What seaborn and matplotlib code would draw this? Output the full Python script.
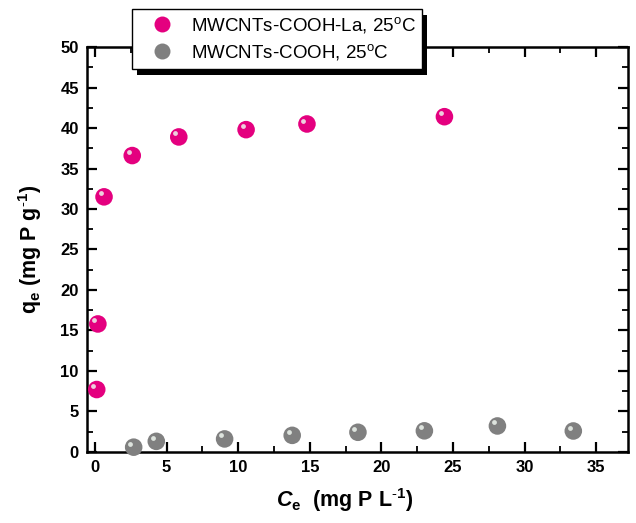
import matplotlib
matplotlib.use("Agg")
import matplotlib.pyplot as plt
import seaborn as sns
import pandas as pd
from matplotlib.transforms import ScaledTranslation
from matplotlib.lines import Line2D
from matplotlib.patches import Rectangle
from matplotlib.ticker import MultipleLocator

# ---- data ----
ce_la = [0.12, 0.2, 0.63, 2.6, 5.85, 10.55, 14.8, 24.4]
qe_la = [7.7, 15.8, 31.5, 36.6, 38.9, 39.8, 40.5, 41.4]
ce_cooh = [2.7, 4.28, 9.05, 13.77, 18.36, 23.0, 28.1, 33.4]
qe_cooh = [0.58, 1.3, 1.6, 2.04, 2.42, 2.6, 3.2, 2.58]
series_names = ["MWCNTs-COOH-La, 25$^\\mathrm{o}$C", "MWCNTs-COOH, 25$^\\mathrm{o}$C"]
colors = ["#E4007F", "#808080"]
xticks = [0, 5, 10, 15, 20, 25, 30, 35]
yticks = [0, 5, 10, 15, 20, 25, 30, 35, 40, 45, 50]

df = pd.DataFrame({
    "Ce": ce_la + ce_cooh,
    "qe": qe_la + qe_cooh,
    "series": [series_names[0]] * len(ce_la) + [series_names[1]] * len(ce_cooh),
})

sns.set_theme(style="white")
plt.rcParams["font.family"] = ["Liberation Sans", "DejaVu Sans"]
plt.rcParams["mathtext.fontset"] = "custom"
plt.rcParams["mathtext.rm"] = "Liberation Sans"
plt.rcParams["mathtext.it"] = "Liberation Sans:italic:bold"
plt.rcParams["mathtext.bf"] = "Liberation Sans:bold"
plt.rcParams["text.color"] = "black"
plt.rcParams["xtick.color"] = "black"
plt.rcParams["ytick.color"] = "black"
plt.rcParams["axes.labelcolor"] = "black"

fig = plt.figure(figsize=(6.36, 5.23), dpi=100)
ax = fig.add_axes([0.137, 0.136, 0.850, 0.774])

sns.scatterplot(data=df, x="Ce", y="qe", hue="series", palette=colors,
                s=160, edgecolor="none", linewidth=0, legend=False, ax=ax,
                zorder=3, clip_on=False)
# sphere highlight
hl = ax.transData + ScaledTranslation(-2.5 / 72, 2.5 / 72, fig.dpi_scale_trans)
ax.scatter(df["Ce"], df["qe"], s=12, color="#eef5ee", alpha=0.85,
           transform=hl, zorder=4, linewidths=0, clip_on=False)

ax.set_xlim(-0.55, 37.2)
ax.set_ylim(0, 50)
ax.set_xticks(xticks)
ax.set_yticks(yticks)
ax.xaxis.set_minor_locator(MultipleLocator(2.5))
ax.yaxis.set_minor_locator(MultipleLocator(2.5))
ax.tick_params(which="both", direction="in", top=True, right=True,
               bottom=True, left=True, color="black", labelcolor="black")
ax.tick_params(which="major", length=7, width=1.6, labelsize=12, pad=6)
ax.tick_params(which="minor", length=4, width=1.3)
ax.tick_params(axis="x", which="both", labeltop=False)
ax.tick_params(axis="y", which="both", labelright=False)
for lab in ax.get_xticklabels() + ax.get_yticklabels():
    lab.set_fontweight("bold")
for sp in ax.spines.values():
    sp.set_visible(True)
    sp.set_color("black")
    sp.set_linewidth(1.8)

ax.set_xlabel("$\\mathit{C}_\\mathbf{e}$  (mg P L$^{\u2010\\mathbf{1}}$)",
              fontsize=15.5, fontweight="bold", labelpad=8)
ax.xaxis.label.set_x(0.477)
ax.set_ylabel("$\\mathbf{q}_\\mathbf{e}$ (mg P g$^{\u2010\\mathbf{1}}$)",
              fontsize=15.5, fontweight="bold", labelpad=12)

handles = [Line2D([], [], marker="o", linestyle="none", markersize=11.5,
                  markerfacecolor=c, markeredgecolor="none") for c in colors]
leg = fig.legend(handles, series_names, loc="upper left",
                 bbox_to_anchor=(0.2075, 0.983), frameon=True, fancybox=False,
                 fontsize=13.5, borderpad=0.35, handletextpad=0.3,
                 labelspacing=0.35, handlelength=2.5, borderaxespad=0)
leg.get_frame().set_edgecolor("black")
leg.get_frame().set_linewidth(1.0)
leg.get_frame().set_alpha(1)
leg.set_zorder(6)

fig.canvas.draw()
bb = leg.get_window_extent()
W, H = fig.bbox.width, fig.bbox.height
sh = Rectangle(((bb.x0 + 5) / W, (bb.y0 - 6) / H), bb.width / W, bb.height / H,
               transform=fig.transFigure, facecolor="black", edgecolor="none",
               zorder=5)
fig.patches.append(sh)

fig.savefig("out.png", dpi=100)
